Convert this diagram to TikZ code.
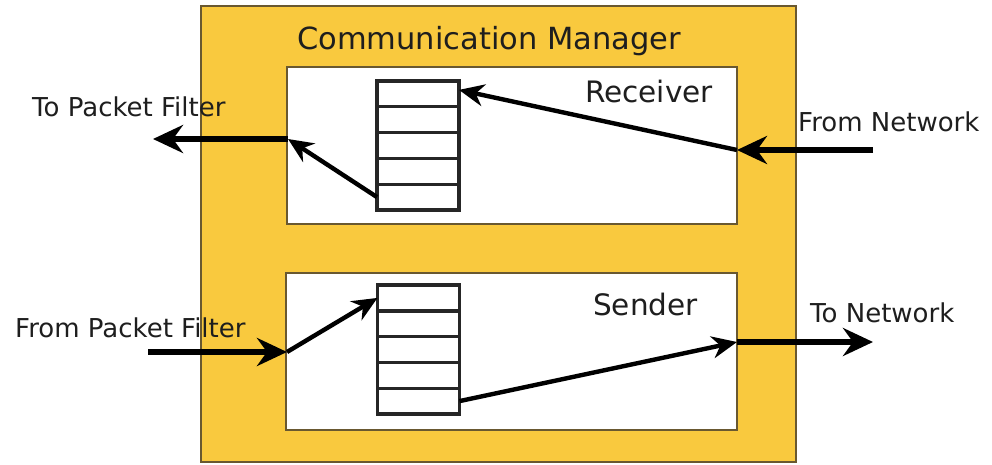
\documentclass[tikz,border=0pt]{standalone}
\usepackage{fontspec}
\setmainfont{DejaVu Sans}
\usetikzlibrary{arrows.meta}
\definecolor{mgryellow}{RGB}{249,201,62}
\definecolor{edgebrown}{RGB}{105,88,48}
\definecolor{labelgray}{RGB}{30,30,30}
\tikzset{
  panel/.style={draw=edgebrown, line width=2.4pt, fill=white, inner sep=0pt},
  cell/.style={draw=black!85, line width=3.4pt, fill=white, minimum width=82pt,
               minimum height=25.8pt, inner sep=0pt, outer sep=0pt},
  flow/.style={line width=6pt, -{Stealth[length=30pt,width=28pt,inset=10pt]}},
  inflow/.style={line width=4.4pt, -{Stealth[length=25pt,width=22pt,inset=8pt]}},
  lbl/.style={anchor=base west, inner sep=0pt, text=labelgray,
              font=\fontsize{26}{26}\selectfont},
  heading/.style={lbl, font=\fontsize{29.5}{29.5}\selectfont}
}
\begin{document}
\begin{tikzpicture}[x=1pt,y=-1pt]
  \useasboundingbox (0,0) rectangle (992,465);

  % manager frame
  \node[draw=edgebrown, line width=2pt, fill=mgryellow, inner sep=0pt,
        minimum width=595pt, minimum height=456pt] (mgr) at (498.5,234) {};
  \node[lbl, font=\fontsize{30.5}{30.5}\selectfont] (title) at (297,50) {Communication Manager};

  % receiver and sender panels
  \node[panel, minimum width=450pt, minimum height=157pt] (recv) at (512,145.5) {};
  \node[panel, minimum width=451pt, minimum height=157pt] (send) at (511.5,351.5) {};
  \node[heading] (recvlbl) at (585,103) {Receiver};
  \node[heading] (sendlbl) at (593,315) {Sender};

  % receive queue
  \foreach \i/\y in {1/93.9,2/119.7,3/145.5,4/171.3,5/197.1}
    \node[cell] (rq\i) at (418,\y) {};
  % send queue
  \foreach \i/\y in {1/297.9,2/323.7,3/349.5,4/375.3,5/401.1}
    \node[cell] (sq\i) at (418.5,\y) {};

  % panel ports and outer ends
  \coordinate (rin)  at (737,150);
  \coordinate (rout) at (288,139);
  \coordinate (sin)  at (287,352);
  \coordinate (sout) at (737,342);
  \coordinate (netin)  at (873,150);
  \coordinate (pfout)  at (153,139);
  \coordinate (pfin)   at (148,352);
  \coordinate (netout) at (873,342);

  % receive path
  \draw[flow] (netin) -- (rin);
  \draw[inflow] (rin) -- ([yshift=4pt]rq1.east);
  \draw[inflow] (rq5.west) -- (rout);
  \draw[flow] (rout) -- (pfout);

  % send path
  \draw[flow] (pfin) -- (sin);
  \draw[inflow] (sin) -- (sq1.west);
  \draw[inflow] (sq5.east) -- (sout);
  \draw[flow] (sout) -- (netout);

  % port labels
  \node[lbl] (lpfout) at (32,117) {To Packet Filter};
  \node[lbl] (lpfin)  at (15,337) {From Packet Filter};
  \node[lbl] (lnetin) at (798,132) {From Network};
  \node[lbl] (lnetout) at (810,322) {To Network};
\end{tikzpicture}
\end{document}
